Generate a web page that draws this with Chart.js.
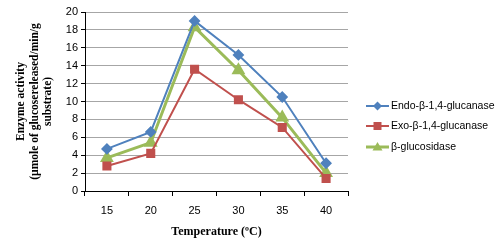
<!DOCTYPE html>
<html><head><meta charset="utf-8">
<script src="https://cdn.jsdelivr.net/npm/chart.js@4"></script>
<style>html,body{margin:0;padding:0;background:#fff}#w{width:500px;height:244px}</style>
</head><body><div id="w"><canvas id="c"></canvas></div>
<script>
const categories = ['15','20','25','30','35','40'];
const endoValues = [4.7, 6.6, 19.0, 15.2, 10.5, 3.1];
const exoValues = [2.8, 4.2, 13.6, 10.2, 7.1, 1.4];
const glucosidaseValues = [3.7, 5.4, 18.3, 13.5, 8.2, 2.0];
const seriesNames = ['Endo-\u03b2-1,4-glucanase','Exo-\u03b2-1,4-glucanase','\u03b2-glucosidase'];
const yTicks = [0,2,4,6,8,10,12,14,16,18,20];

const legendPlugin = {
  id:'customLegend',
  afterDraw(chart){
    const ctx = chart.ctx;
    const ys = [106,126,147];
    chart.data.datasets.forEach((ds,i)=>{
      const y = ys[i];
      ctx.save();
      ctx.strokeStyle = ds.borderColor;
      ctx.lineWidth = ds.borderWidth;
      ctx.beginPath(); ctx.moveTo(366,y); ctx.lineTo(389,y); ctx.stroke();
      ctx.fillStyle = ds.pointBackgroundColor;
      const cx=377.5, r=ds.pointRadius;
      ctx.beginPath();
      if(ds.pointStyle==='rectRot'){ctx.moveTo(cx,y-r);ctx.lineTo(cx+r,y);ctx.lineTo(cx,y+r);ctx.lineTo(cx-r,y);}
      else if(ds.pointStyle==='rect'){ctx.rect(cx-r*0.8,y-r*0.8,r*1.6,r*1.6);}
      else {ctx.moveTo(cx,y-r);ctx.lineTo(cx+r,y+r*0.7);ctx.lineTo(cx-r,y+r*0.7);}
      ctx.closePath(); ctx.fill();
      ctx.fillStyle='#000'; ctx.font='10.5px "Liberation Sans", Arial'; ctx.textBaseline='middle'; ctx.textAlign='left';
      ctx.fillText(ds.label, 391, y);
      ctx.restore();
    });
  }
};

new Chart(document.getElementById('c'), {
  type:'line',
  data:{
    labels: categories,
    datasets:[
      {label:seriesNames[0], data:endoValues, borderColor:'#4F81BD', backgroundColor:'#4F81BD', pointBackgroundColor:'#4F81BD', pointBorderColor:'#4F81BD', borderWidth:2, pointStyle:'rectRot', pointRadius:4.5, tension:0},
      {label:seriesNames[1], data:exoValues, borderColor:'#C0504D', backgroundColor:'#C0504D', pointBackgroundColor:'#C0504D', pointBorderColor:'#C0504D', borderWidth:2, pointStyle:'rect', pointRadius:5, tension:0},
      {label:seriesNames[2], data:glucosidaseValues, borderColor:'#9BBB59', backgroundColor:'#9BBB59', pointBackgroundColor:'#9BBB59', pointBorderColor:'#9BBB59', borderWidth:3, pointStyle:'triangle', pointRadius:5, tension:0}
    ]
  },
  options:{
    responsive:true, maintainAspectRatio:false, animation:false,
    layout:{padding:{top:12,right:152,left:14,bottom:0}},
    plugins:{legend:{display:false}, tooltip:{enabled:false}},
    scales:{
      x:{
        offset:true,
        grid:{display:true, drawOnChartArea:false, drawTicks:true, tickLength:5, offset:true, color:'#000'},
        border:{color:'#000', width:1},
        ticks:{color:'#000', font:{family:'"Liberation Sans", Arial', size:11}, padding:8, maxRotation:0},
        title:{display:true, text:'Temperature (\u00baC)', color:'#000', font:{family:'"Liberation Serif","Times New Roman"', size:12, weight:'bold'}, padding:{top:0,bottom:5}},
        afterFit(s){ s.height = 53; }
      },
      y:{
        min:0, max:20,
        afterBuildTicks(s){ s.ticks = yTicks.map(v=>({value:v})); },
        grid:{color:'#a6a6a6', lineWidth:1, tickLength:4, drawTicks:true, tickColor:'#000'},
        border:{color:'#000', width:1},
        ticks:{color:'#000', font:{family:'"Liberation Sans", Arial', size:11}, padding:3},
        title:{display:true, text:['Enzyme activity','(\u00b5mole of glucosereleased/min/g','substrate)'], color:'#000', font:{family:'"Liberation Serif","Times New Roman"', size:11.5, weight:'bold', lineHeight:1.2}, padding:{top:0,bottom:4}},
        afterFit(s){ s.width = 71; }
      }
    }
  },
  plugins:[legendPlugin]
});
</script></body></html>
